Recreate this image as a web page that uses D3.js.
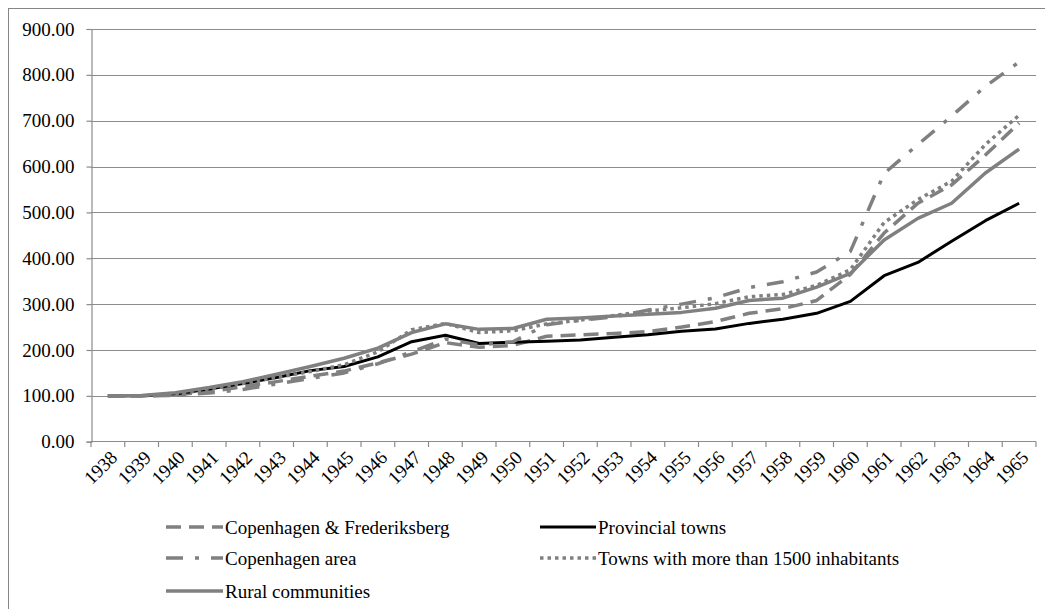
<!DOCTYPE html>
<html>
<head>
<meta charset="utf-8">
<script src="https://cdn.jsdelivr.net/npm/d3@7"></script>
<style>
  body { margin: 0; background: #fff; }
  svg text { font-family: "Liberation Serif", "Times New Roman", serif; fill: #000; }
</style>
</head>
<body>
<svg id="chart" width="1045" height="609"></svg>
<script>
// year labels on the category axis
const years = ["1938","1939","1940","1941","1942","1943","1944","1945","1946","1947",
  "1948","1949","1950","1951","1952","1953","1954","1955","1956","1957",
  "1958","1959","1960","1961","1962","1963","1964","1965"]

const yTicks = [0, 100, 200, 300, 400, 500, 600, 700, 800, 900]

// index values (1938 = 100)
const copenhagenFrederiksberg = [100,100,102,109,120,131,143,154,172,191,
  216,206,210,230,233,236,240,250,262,280,290,308,365,455,520,560,625,695]
const provincialTowns = [100,100,104,115,127,140,155,164,185,218,
  232,214,217,219,222,228,233,241,246,258,267,280,306,362,391,437,482,520]
const copenhagenArea = [100,100,101,106,114,126,138,150,170,196,
  224,211,218,255,265,272,287,300,314,336,349,370,415,585,648,710,775,828]
const townsOver1500 = [100,100,103,115,127,140,153,168,196,244,
  258,238,242,257,265,275,285,292,301,316,321,341,375,478,528,568,648,712]
const ruralCommunities = [100,101,107,118,131,147,164,182,204,238,
  257,245,247,267,270,274,278,282,291,308,313,337,367,440,487,520,586,638]

const series = [
  {name: "Copenhagen & Frederiksberg", values: copenhagenFrederiksberg, color: "#808080", width: 3.5, dash: "15,8"},
  {name: "Provincial towns", values: provincialTowns, color: "#000", width: 3, dash: null},
  {name: "Copenhagen area", values: copenhagenArea, color: "#808080", width: 3.5, dash: "17,12,4,12"},
  {name: "Towns with more than 1500 inhabitants", values: townsOver1500, color: "#808080", width: 3.5, dash: "3.5,4"},
  {name: "Rural communities", values: ruralCommunities, color: "#808080", width: 3.5, dash: null}
]

let svg = d3.select("#chart")

// chart frame
svg.append("rect")
  .attr("x", 8.5).attr("y", 8.5).attr("width", 1040).attr("height", 620)
  .style("fill", "none").style("stroke", "#868686").style("stroke-width", 1)

let x = d3.scaleBand().domain(years).range([91, 1036]).padding(0)
let y = d3.scaleLinear().domain([0, 900]).range([441.7, 29])
let cx = d => x(d) + x.bandwidth() / 2

// gridlines
svg.append("g").selectAll("line").data(yTicks.filter(d => d > 0)).enter().append("line")
  .attr("x1", 91).attr("x2", 1036)
  .attr("y1", d => Math.round(y(d)) + 0.5).attr("y2", d => Math.round(y(d)) + 0.5)
  .style("stroke", "#8c8c8c").style("stroke-width", 1.2)

// y axis
let yAxis = svg.append("g").attr("transform", "translate(91.5,0)")
  .call(d3.axisLeft(y).tickValues(yTicks).tickFormat(d3.format(".2f")).tickSize(5).tickPadding(12))
yAxis.select(".domain").style("stroke", "#8c8c8c").style("stroke-width", 1.2)
yAxis.selectAll(".tick line").style("stroke", "#8c8c8c").style("stroke-width", 1.2)
yAxis.selectAll("text").style("font-size", "19px").style("font-family", "Liberation Serif")

// x axis line with ticks on the category boundaries
let xAxis = svg.append("g")
xAxis.append("line")
  .attr("x1", 91).attr("x2", 1036).attr("y1", 441.5).attr("y2", 441.5)
  .style("stroke", "#8c8c8c").style("stroke-width", 1.2)
xAxis.selectAll(".bt").data(years.concat(["end"])).enter().append("line")
  .attr("class", "bt")
  .attr("x1", d => d === "end" ? 1036 : x(d)).attr("x2", d => d === "end" ? 1036 : x(d))
  .attr("y1", 441.5).attr("y2", 447)
  .style("stroke", "#8c8c8c").style("stroke-width", 1.2)
xAxis.selectAll("text").data(years).enter().append("text")
  .attr("transform", d => "translate(" + (cx(d) + 6) + ",454)rotate(-45)")
  .attr("text-anchor", "end")
  .attr("dy", "0.35em")
  .style("font-size", "19px")
  .text(d => d)

// lines
let line = d3.line()
  .x((d, i) => cx(years[i]))
  .y(d => y(d))

svg.append("g").selectAll("path").data(series).enter().append("path")
  .attr("d", d => line(d.values))
  .style("fill", "none")
  .style("stroke", d => d.color)
  .style("stroke-width", d => d.width)
  .style("stroke-dasharray", d => d.dash)
  .style("stroke-linejoin", "round")

// legend
let legendPos = [
  {sx: 166, tx: 225, ty: 527},
  {sx: 540, tx: 598, ty: 527},
  {sx: 166, tx: 225, ty: 558},
  {sx: 540, tx: 598, ty: 558},
  {sx: 166, tx: 225, ty: 591}
]
let legend = svg.append("g").selectAll("g").data(series).enter().append("g")
  .attr("transform", (d, i) => "translate(0," + legendPos[i].ty + ")")
legend.append("line")
  .attr("x1", (d, i) => legendPos[i].sx).attr("x2", (d, i) => legendPos[i].tx - 2)
  .attr("y1", 0).attr("y2", 0)
  .style("stroke", d => d.color)
  .style("stroke-width", d => d.width)
  .style("stroke-dasharray", d => d.dash)
legend.append("text")
  .attr("x", (d, i) => legendPos[i].tx)
  .attr("dy", "0.35em")
  .style("font-size", "19px")
  .text(d => d.name)
</script>
</body>
</html>
